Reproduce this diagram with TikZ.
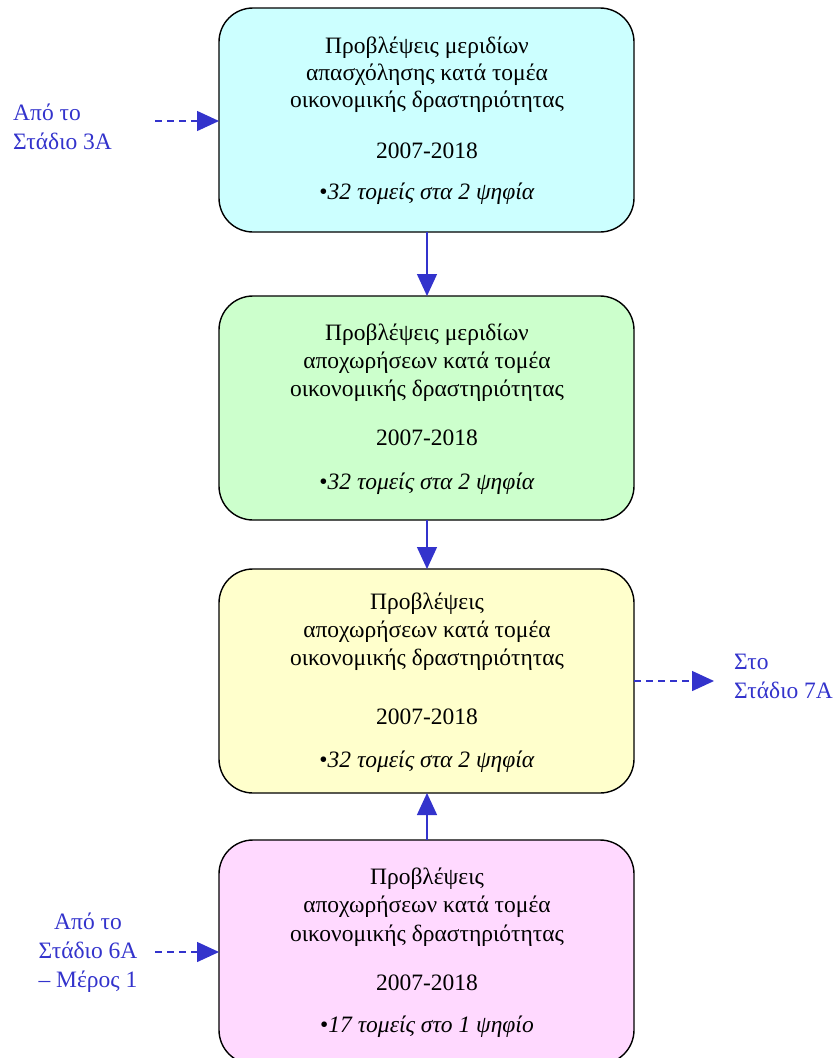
\documentclass[tikz,border=0pt]{standalone}
\usepackage{fontspec}
\setmainfont{Liberation Serif}
\usetikzlibrary{arrows.meta}
\definecolor{arrblue}{HTML}{3333CC}
\definecolor{cyanbox}{HTML}{CCFFFF}
\definecolor{greenbox}{HTML}{CCFFCC}
\definecolor{yellowbox}{HTML}{FFFFCC}
\definecolor{pinkbox}{HTML}{FFD9FF}
\tikzset{
  boxstyle/.style={draw=black, line width=1.4pt, rounded corners=34pt},
  txt/.style={font=\fontsize{23.5}{27}\selectfont, align=center, inner sep=0pt},
  bluetxt/.style={font=\fontsize{23.5}{29}\selectfont, text=arrblue, inner sep=0pt},
  solidarr/.style={draw=arrblue, line width=1.4pt, -{Triangle[length=22pt,width=20pt]}},
  dasharr/.style={draw=arrblue, line width=1.4pt, dash pattern=on 7pt off 5pt, -{Triangle[length=22pt,width=20pt]}}
}
\begin{document}
\begin{tikzpicture}[x=1pt,y=-1pt]
\useasboundingbox (0,0) rectangle (836,1058);
\begin{scope}
\clip (0,0) rectangle (836,1058);
\draw[boxstyle, fill=cyanbox] (219,8) rectangle (634,232);
\draw[boxstyle, fill=greenbox] (219,296) rectangle (634,520);
\draw[boxstyle, fill=yellowbox] (219,569) rectangle (634,793);
\draw[boxstyle, fill=pinkbox] (219,840) rectangle (634,1064);
\end{scope}
% anchors
\coordinate (b1b) at (427,232);
\coordinate (b2t) at (427,296);
\coordinate (b2b) at (427,520);
\coordinate (b3t) at (427,569);
\coordinate (b3b) at (427,793);
\coordinate (b4t) at (427,840);
\coordinate (b1l) at (219,121);
\coordinate (b4l) at (219,952);
\coordinate (b3r) at (634,681);
% box 1 text
\node[txt] (t1a) at (427,48) {Προβλέψεις μεριδίων};
\node[txt] (t1b) at (427,75) {απασχόλησης κατά τομέα};
\node[txt] (t1c) at (427,102) {οικονομικής δραστηριότητας};
\node[txt] (t1d) at (427,151) {2007-2018};
\node[txt] (t1e) at (427,194) {•\textit{32 τομείς στα 2 ψηφία}};
% box 2 text
\node[txt] (t2a) at (427,335) {Προβλέψεις μεριδίων};
\node[txt] (t2b) at (427,363) {αποχωρήσεων κατά τομέα};
\node[txt] (t2c) at (427,391) {οικονομικής δραστηριότητας};
\node[txt] (t2d) at (427,438) {2007-2018};
\node[txt] (t2e) at (427,484) {•\textit{32 τομείς στα 2 ψηφία}};
% box 3 text
\node[txt] (t3a) at (427,604) {Προβλέψεις};
\node[txt] (t3b) at (427,632) {αποχωρήσεων κατά τομέα};
\node[txt] (t3c) at (427,660) {οικονομικής δραστηριότητας};
\node[txt] (t3d) at (427,717) {2007-2018};
\node[txt] (t3e) at (427,762) {•\textit{32 τομείς στα 2 ψηφία}};
% box 4 text
\node[txt] (t4a) at (427,879) {Προβλέψεις};
\node[txt] (t4b) at (427,907) {αποχωρήσεων κατά τομέα};
\node[txt] (t4c) at (427,936) {οικονομικής δραστηριότητας};
\node[txt] (t4d) at (427,983) {2007-2018};
\node[txt] (t4e) at (427,1027) {•\textit{17 τομείς στο 1 ψηφίο}};
% side labels
\node[bluetxt, align=left, anchor=west] (l1) at (13,127) {Από το\\Στάδιο 3A};
\node[bluetxt, align=center] (l2) at (88,953) {Από το\\Στάδιο 6A\\– Μέρος 1};
\node[bluetxt, align=left, anchor=west] (l3) at (734,676) {Στο\\Στάδιο 7A};
\coordinate (s1) at (155,121);
\coordinate (s2) at (155,952);
\coordinate (e3) at (714,681);
% arrows
\draw[solidarr] (b1b) -- (b2t);
\draw[solidarr] (b2b) -- (b3t);
\draw[solidarr] (b4t) -- (b3b);
\draw[dasharr] (s1) -- (b1l);
\draw[dasharr] (s2) -- (b4l);
\draw[dasharr] (b3r) -- (e3);
\end{tikzpicture}
\end{document}
